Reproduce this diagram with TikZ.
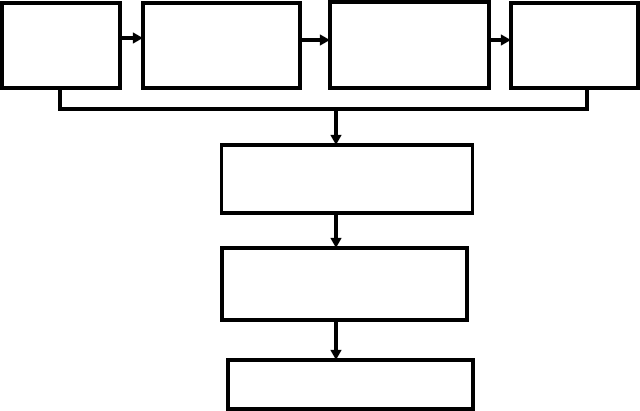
\documentclass[tikz,border=0pt]{standalone}
\usetikzlibrary{arrows.meta}

\begin{document}
\begin{tikzpicture}[x=0.025cm,y=-0.025cm,
  box/.style={draw, rectangle, line width=2.6pt, inner sep=0pt, outer sep=0pt},
  arr/.style={line width=2.6pt, -{Triangle[length=2.5mm,width=2.6mm]}}]

\useasboundingbox (0,0) rectangle (640,411);

% top row
\node [box, minimum width=2.95cm, minimum height=2.125cm] (stageA) at (61,45.5) {};
\node [box, minimum width=3.925cm, minimum height=2.125cm] (stageB) at (221.5,45.5) {};
\node [box, minimum width=3.975cm, minimum height=2.15cm] (stageC) at (409.5,45) {};
\node [box, minimum width=3.175cm, minimum height=2.125cm] (stageD) at (574.5,45.5) {};

% lower column
\node [box, minimum width=6.275cm, minimum height=1.7cm] (merge) at (347,179) {};
\node [box, minimum width=6.125cm, minimum height=1.8cm] (process) at (344.5,284) {};
\node [box, minimum width=6.125cm, minimum height=1.225cm] (result) at (350.5,384.5) {};

\coordinate (rowA) at (0,38);
\coordinate (rowB) at (0,40);
\draw [arr] (stageA.east |- rowA) -- (stageB.west |- rowA);
\draw [arr] (stageB.east |- rowB) -- (stageC.west |- rowB);
\draw [arr] (stageC.east |- rowB) -- (stageD.west |- rowB);

% collecting line
\coordinate (tap) at (336,109);
\coordinate (busL) at (60,109);
\coordinate (busR) at (587,109);
\draw [line width=2.6pt] (busL |- stageA.south) -- (busL) -- (busR) -- (busR |- stageD.south);
\draw [arr] (tap) -- (tap |- merge.north);
\draw [arr] (tap |- merge.south) -- (tap |- process.north);
\draw [arr] (tap |- process.south) -- (tap |- result.north);

\end{tikzpicture}
\end{document}
